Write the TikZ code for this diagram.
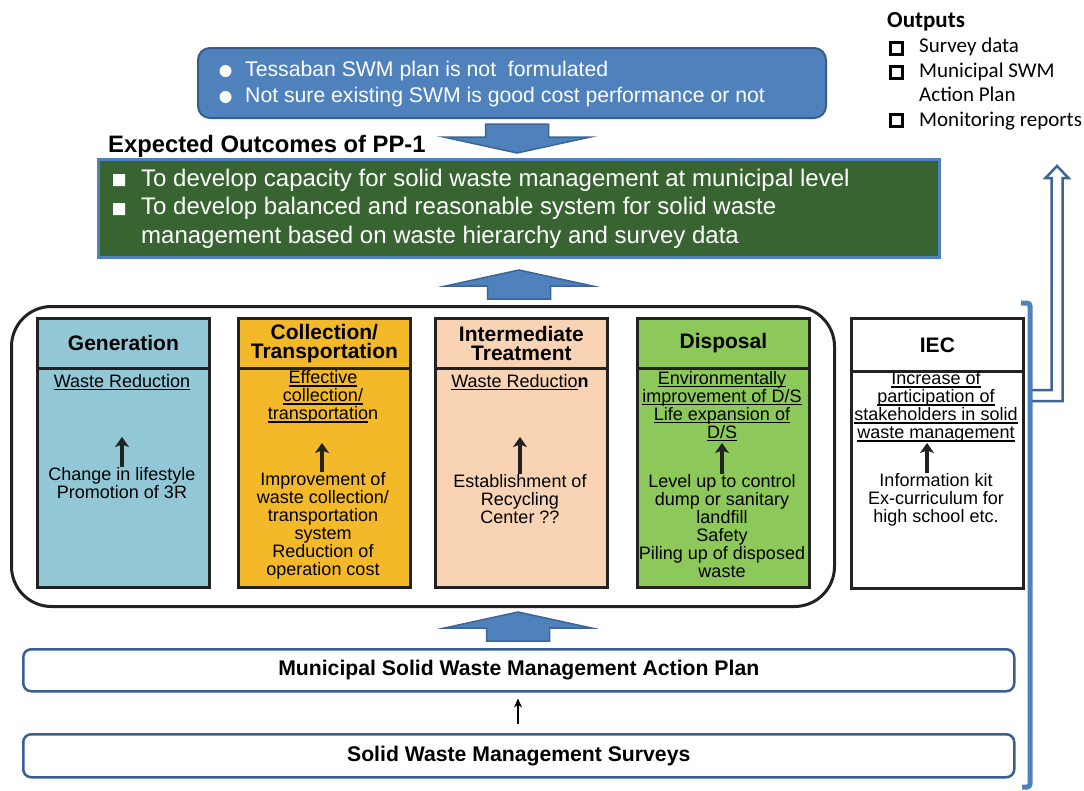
\documentclass[tikz,border=0pt]{standalone}
\usepackage{fontspec}
\setmainfont{Liberation Sans}
\newfontfamily\outfont{Carlito}
\usetikzlibrary{arrows.meta}

\definecolor{arrowblue}{HTML}{4F81BD}
\definecolor{arrowedge}{HTML}{3C6496}
\definecolor{probedge}{HTML}{385D8A}
\definecolor{outcomegreen}{HTML}{376430}
\definecolor{genblue}{HTML}{92C7D6}
\definecolor{colyellow}{HTML}{F4B928}
\definecolor{intpeach}{HTML}{F9D4B4}
\definecolor{disgreen}{HTML}{8DC85A}
\definecolor{planedge}{HTML}{3A5E92}
\definecolor{inkblack}{HTML}{222222}

% underline sitting a fixed distance below the baseline
\newcommand\ulx[1]{\setbox0\hbox{#1}\rlap{\rule[-3pt]{\wd0}{1.2pt}}\box0}

\tikzset{
  blockup/.pic={
    \draw[arrowedge, fill=arrowblue, line width=1.5pt, line join=miter]
      (0,0) -- (73.5,16) -- (31.5,16) -- (31.5,29) -- (-31.5,29) -- (-31.5,16) -- (-73.5,16) -- cycle;
  },
  probbox/.style={draw=probedge, line width=2pt, fill=arrowblue, rounded corners=12pt,
    minimum width=628, minimum height=70, inner sep=0, anchor=north west},
  probtxt/.style={text=white, font=\fontsize{21.2}{26}\selectfont, inner sep=0, anchor=west},
  outcomebox/.style={draw=arrowblue, line width=2.5pt, fill=outcomegreen,
    minimum width=841, minimum height=98, inner sep=0, anchor=north west},
  outcometxt/.style={text=white, font=\fontsize{24}{28.5}\selectfont, inner sep=0, anchor=west, align=left},
  colhead/.style={draw=inkblack, line width=2.8pt, minimum width=172, minimum height=50,
    inner sep=0, anchor=north west, align=center, font=\fontsize{21}{19}\selectfont\bfseries},
  colbody/.style={draw=inkblack, line width=2.8pt, minimum width=172, minimum height=219,
    inner sep=0, anchor=north west},
  coltxt/.style={font=\fontsize{18}{18}\selectfont, align=center, inner sep=0},
  inarrow/.style={draw=inkblack, line width=3.2pt, -{Stealth[length=10pt,width=14pt,inset=2.5pt]}},
  planbox/.style={draw=planedge, line width=2.5pt, fill=white, rounded corners=8pt,
    minimum width=991, inner sep=0, anchor=north west},
  plantxt/.style={font=\fontsize{21.2}{24}\selectfont\bfseries, inner sep=0},
  checkbox/.style={draw=black, line width=3pt, minimum size=12, inner sep=0},
}

\begin{document}
\begin{tikzpicture}[x=1pt,y=-1pt]
\useasboundingbox (0,0) rectangle (1084,790);

% ---------- outputs list ----------
\node[font=\outfont\fontsize{23}{26}\selectfont\bfseries, anchor=west, inner sep=0] (outputs) at (887,22) {Outputs};
\node[checkbox] (chk1) at (896.5,48) {};
\node[checkbox] (chk2) at (896.5,72) {};
\node[checkbox] (chk3) at (896.5,120) {};
\node[font=\outfont\fontsize{21}{24.4}\selectfont, anchor=west, align=left, inner sep=0] (outlist) at (919,84)
  {Survey data\\Municipal SWM\\Action Plan\\Monitoring reports};

% ---------- problem statement ----------
\node[probbox] (problem) at (197,47) {};
\fill[white] (225.5,71) circle (6) (225.5,97) circle (6);
\node[probtxt] (prob1) at (245,71) {Tessaban SWM plan is not\ \ formulated};
\node[probtxt] (prob2) at (245,97) {Not sure existing SWM is good cost performance or not};

\pic[yscale=-1] at (517,153) {blockup};

% ---------- expected outcomes ----------
\node[font=\fontsize{23.8}{26}\selectfont\bfseries, anchor=west, inner sep=0] (outtitle) at (108,146) {Expected Outcomes of PP-1};
\node[outcomebox] (outcome) at (97,158) {};
\fill[white] (113,174) rectangle (125,186) (113,203) rectangle (125,215);
\node[outcometxt] (out1) at (141,180) {To develop capacity for solid waste management at municipal level};
\node[outcometxt] (out2) at (141,223) {To develop balanced and reasonable system for solid waste\\management based on waste hierarchy and survey data};

\pic at (519,270) {blockup};

% ---------- waste management stream ----------
\node[draw=inkblack, line width=3pt, rounded corners=40pt, minimum width=823, minimum height=300,
  inner sep=0, anchor=north west] (stream) at (10,305) {};

% Generation
\node[colhead, fill=genblue] (genhead) at (36,317) {Generation};
\node[colbody, fill=genblue] (genbody) at (36,367) {};
\node[coltxt] (gengoal) at (122,382) {\ulx{Waste Reduction}};
\node[coltxt] (genact) at (122,483) {Change in lifestyle\\Promotion of 3R};
\coordinate (genarr) at (122,437);
\draw[inarrow] (genact.north) -- (genarr);

% Collection / Transportation
\node[colhead, fill=colyellow] (colhead) at (237,317) {Collection/\\Transportation};
\node[colbody, fill=colyellow] (colbody) at (237,367) {};
\node[coltxt] (colgoal) at (323,397) {\ulx{Effective}\\\ulx{collection/}\\\ulx{transportatio}n};
\node[coltxt] (colact) at (323,526) {Improvement of\\waste collection/\\transportation\\system\\Reduction of\\operation cost};
\coordinate (colarr) at (322,443);
\draw[inarrow] (colact.north -| colarr) -- (colarr);

% Intermediate treatment
\node[colhead, fill=intpeach] (inthead) at (434,317) {Intermediate\\Treatment};
\node[colbody, fill=intpeach] (intbody) at (434,367) {};
\node[coltxt] (intgoal) at (520,382) {\ulx{Waste Reductio}\textbf{n}};
\node[coltxt] (intact) at (520,499) {Establishment of\\Recycling\\Center ??};
\coordinate (intarr) at (520,437);
\draw[inarrow] (intact.north) -- (intarr);

% Disposal
\node[colhead, fill=disgreen] (dishead) at (636,317) {Disposal};
\node[colbody, fill=disgreen] (disbody) at (636,367) {};
\node[coltxt] (disgoal) at (722,406) {\ulx{Environmentally}\\\ulx{improvement of D/S}\\\ulx{Life expansion of}\\\ulx{D/S}};
\node[coltxt] (disact) at (722,526) {Level up to control\\dump or sanitary\\landfill\\Safety\\Piling up of disposed\\waste};
\coordinate (disarr) at (722,443);
\draw[inarrow] (disact.north -| disarr) -- (disarr);

% IEC
\node[colhead, fill=white, minimum height=53] (iechead) at (850,317) {IEC};
\node[colbody, fill=white, minimum height=217] (iecbody) at (850,370) {};
\node[coltxt] (iecgoal) at (936,407) {\ulx{Increase of}\\\ulx{participation of}\\\ulx{stakeholders in solid}\\\ulx{waste management}};
\node[coltxt] (iecact) at (936,500) {Information kit\\Ex-curriculum for\\high school etc.};
\coordinate (iecarr) at (927,443);
\draw[inarrow] (iecact.north -| iecarr) -- (iecarr);

\pic at (518,612) {blockup};

% ---------- plan and surveys ----------
\node[planbox, minimum height=42] (plan) at (22,648) {};
\node[plantxt] (plantxt) at (plan.center) {Municipal Solid Waste Management Action Plan};
\node[planbox, minimum height=43] (surveys) at (22,733) {};
\node[plantxt] (surveytxt) at (surveys.center) {Solid Waste Management Surveys};
\draw[black, line width=2pt, -{Stealth[length=9pt,width=8pt]}, shorten <=9pt, shorten >=6pt]
  (surveys.north -| 518,0) -- (plan.south -| 518,0);

% ---------- feedback to outputs ----------
\draw[draw=arrowedge, line width=2.5pt, fill=white, line join=miter]
  (1032,390) -- (1051.5,390) -- (1051.5,178) -- (1045.5,178) -- (1057,166) -- (1068.5,178)
  -- (1062.5,178) -- (1062.5,401) -- (1032,401);
\draw[arrowblue, line width=5pt, rounded corners=3pt] (1021,303) -- (1030,303) -- (1030,787) -- (1022,787);
\end{tikzpicture}
\end{document}
